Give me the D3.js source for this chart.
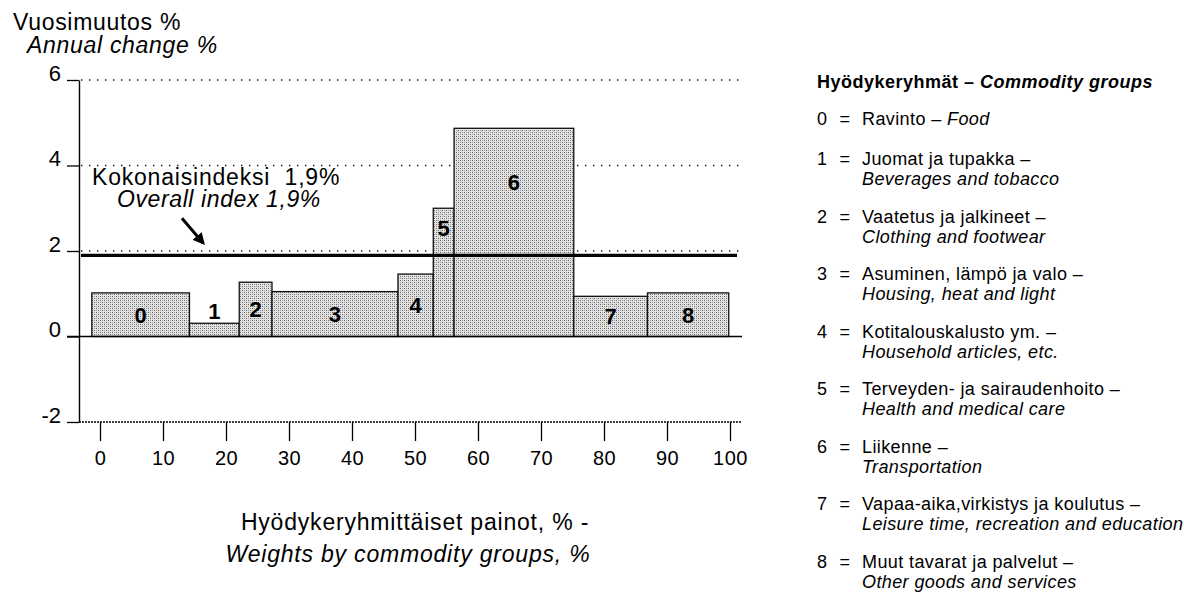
<!DOCTYPE html>
<html>
<head>
<meta charset="utf-8">
<script src="https://cdn.jsdelivr.net/npm/d3@7"></script>
<style>
  body { margin: 0; background: #fff; }
  svg { font-family: "Liberation Sans", Arial, Helvetica, sans-serif; }
</style>
</head>
<body>
<div id="chart"></div>
<script>
// hyödykeryhmät (koodit), painot % ja vuosimuutos %
const groups = ["0", "1", "2", "3", "4", "5", "6", "7", "8"];
const weights = [15.5, 7.9, 5.2, 20.0, 5.6, 3.3, 19.0, 11.7, 12.9];
const changes = [1.02, 0.31, 1.27, 1.05, 1.46, 3.0, 4.87, 0.94, 1.02];
const weightStart = -1.3;
const overall = 1.9;

const xTicks = [0, 10, 20, 30, 40, 50, 60, 70, 80, 90, 100];
const yTicks = [-2, 0, 2, 4, 6];

const legendFi = ["Ravinto", "Juomat ja tupakka", "Vaatetus ja jalkineet", "Asuminen, lämpö ja valo",
  "Kotitalouskalusto ym.", "Terveyden- ja sairaudenhoito", "Liikenne",
  "Vapaa-aika,virkistys ja koulutus", "Muut tavarat ja palvelut"];
const legendEn = ["Food", "Beverages and tobacco", "Clothing and footwear", "Housing, heat and light",
  "Household articles, etc.", "Health and medical care", "Transportation",
  "Leisure time, recreation and education", "Other goods and services"];

const W = 1184, H = 593;

const svg = d3.select("#chart").append("svg")
    .attr("width", W)
    .attr("height", H);

// pisterasteri pylväille
const defs = svg.append("defs");
const pat = defs.append("pattern")
    .attr("id", "stipple")
    .attr("patternUnits", "userSpaceOnUse")
    .attr("width", 4).attr("height", 4);
pat.append("rect").attr("width", 4).attr("height", 4).attr("fill", "#e2e2e2");
pat.append("rect").attr("x", 0).attr("y", 0).attr("width", 1).attr("height", 1).attr("fill", "#666");
pat.append("rect").attr("x", 2).attr("y", 2).attr("width", 1).attr("height", 1).attr("fill", "#666");
pat.append("rect").attr("x", 2).attr("y", 0).attr("width", 1).attr("height", 1).attr("fill", "#a0a0a0");
pat.append("rect").attr("x", 0).attr("y", 2).attr("width", 1).attr("height", 1).attr("fill", "#a0a0a0");

defs.append("marker")
    .attr("id", "arrow")
    .attr("viewBox", "0 0 10 10")
    .attr("refX", 8).attr("refY", 5)
    .attr("markerWidth", 4).attr("markerHeight", 4)
    .attr("orient", "auto")
  .append("path")
    .attr("d", "M0,0L10,5L0,10z")
    .attr("fill", "#000");

// asteikot
const x = d3.scaleLinear().domain([0, 100]).range([100, 730]);
const y = d3.scaleLinear().domain([-2, 6]).range([422, 80]);
const axisX = 79, plotRight = 742;

// apuviivat
svg.append("g")
  .selectAll("line")
  .data(yTicks.filter(d => d > 0))
  .join("line")
    .attr("x1", axisX + 2).attr("x2", plotRight)
    .attr("y1", d => y(d)).attr("y2", d => y(d))
    .attr("stroke", "#111")
    .attr("stroke-width", 1.3)
    .attr("stroke-dasharray", "1.4,6.6");

// pylväät: leveys = paino, korkeus = muutos
let acc = weightStart;
const bars = groups.map((g, i) => {
  const b = {g: g, x0: acc, x1: acc + weights[i], v: changes[i]};
  acc += weights[i];
  return b;
});

svg.append("g")
  .selectAll("rect")
  .data(bars)
  .join("rect")
    .attr("x", d => x(d.x0))
    .attr("y", d => y(d.v))
    .attr("width", d => x(d.x1) - x(d.x0))
    .attr("height", d => y(0) - y(d.v))
    .attr("fill", "url(#stipple)")
    .attr("stroke", "#111")
    .attr("stroke-width", 1.3);

// nollaviiva
svg.append("line")
    .attr("x1", axisX - 12).attr("x2", plotRight)
    .attr("y1", y(0)).attr("y2", y(0))
    .attr("stroke", "#000").attr("stroke-width", 1.4);

// -2 viiva (x-akseli)
svg.append("line")
    .attr("x1", axisX).attr("x2", plotRight)
    .attr("y1", y(-2)).attr("y2", y(-2))
    .attr("stroke", "#000").attr("stroke-width", 1.3)
    .attr("stroke-dasharray", "2,1");

// kokonaisindeksi
const lineY = y(overall);
svg.append("line")
    .attr("x1", axisX + 2).attr("x2", 737)
    .attr("y1", lineY).attr("y2", lineY)
    .attr("stroke", "#000").attr("stroke-width", 3.2);

// pylväiden numerot
svg.append("g")
  .selectAll("text")
  .data(bars)
  .join("text")
    .attr("x", d => (x(d.x0) + x(d.x1)) / 2)
    .attr("y", d => {
      const top = y(d.v), base = y(0);
      let c;
      if (base - top < 20) c = top - 12;
      else if (d.v > overall) c = top + 0.42 * (lineY - top);
      else c = Math.max((top + base) / 2, top + 20);
      return c + 8;
    })
    .attr("text-anchor", "middle")
    .attr("font-size", 22)
    .attr("font-weight", "bold")
    .text(d => d.g);

// y-akseli
const gy = svg.append("g")
    .attr("transform", "translate(" + axisX + ",0)")
    .call(d3.axisLeft(y).tickValues(yTicks).tickSize(12).tickSizeOuter(0)
      .tickFormat(d => d < 0 ? "-" + Math.abs(d) : String(d)));
gy.select(".domain").attr("stroke-width", 1.4);
gy.selectAll(".tick line").attr("stroke-width", 1.3);
gy.selectAll(".tick text")
    .attr("x", -18).attr("dy", 0)
    .attr("font-size", 22)
    .attr("fill", "#000")
    .style("font-family", "inherit");

// x-akseli
const gx = svg.append("g")
    .attr("transform", "translate(0," + y(-2) + ")")
    .call(d3.axisBottom(x).tickValues(xTicks).tickSize(19).tickSizeOuter(0));
gx.select(".domain").remove();
gx.selectAll(".tick line").attr("stroke-width", 1.3);
gx.selectAll(".tick text")
    .attr("y", 43).attr("dy", 0)
    .attr("font-size", 20)
    .attr("letter-spacing", 0.5)
    .attr("fill", "#000")
    .style("font-family", "inherit");

// akselien otsikot
svg.append("text").attr("x", 13).attr("y", 30)
    .attr("font-size", 23).attr("letter-spacing", 0.7).text("Vuosimuutos %");
svg.append("text").attr("x", 27).attr("y", 53)
    .attr("font-size", 23).attr("letter-spacing", 0.7).attr("font-style", "italic")
    .text("Annual change %");

svg.append("text").attr("x", 415).attr("y", 530)
    .attr("text-anchor", "middle").attr("font-size", 23).attr("letter-spacing", 0.8)
    .text("Hyödykeryhmittäiset painot, % -");
svg.append("text").attr("x", 408).attr("y", 562)
    .attr("text-anchor", "middle").attr("font-size", 23).attr("letter-spacing", 0.8)
    .attr("font-style", "italic")
    .text("Weights by commodity groups, %");

// kokonaisindeksin selite ja nuoli
svg.append("text").attr("x", 92).attr("y", 185)
    .attr("font-size", 23).attr("letter-spacing", 0.8).attr("xml:space", "preserve")
    .text("Kokonaisindeksi  1,9%");
svg.append("text").attr("x", 117).attr("y", 207)
    .attr("font-size", 23).attr("letter-spacing", 0.6).attr("font-style", "italic")
    .text("Overall index 1,9%");
svg.append("line")
    .attr("x1", x(13)).attr("y1", lineY - 37)
    .attr("x2", x(16.4)).attr("y2", lineY - 12)
    .attr("stroke", "#000").attr("stroke-width", 3)
    .attr("marker-end", "url(#arrow)");

// selite
const fs = 18, ls = 0.4;
const lg = svg.append("g").attr("letter-spacing", ls);
lg.append("text").attr("x", 817).attr("y", 88)
    .attr("font-size", fs).attr("font-weight", "bold").attr("letter-spacing", 0.5)
    .call(t => {
      t.append("tspan").text("Hyödykeryhmät – ");
      t.append("tspan").attr("font-style", "italic").text("Commodity groups");
    });

const itemY = i => i === 0 ? 125 : 165 + (i - 1) * 57.5;
groups.forEach((g, i) => {
  const yy = itemY(i);
  lg.append("text").attr("x", 817).attr("y", yy).attr("font-size", fs).text(g);
  lg.append("text").attr("x", 845).attr("y", yy).attr("font-size", fs)
      .attr("text-anchor", "middle").text("=");
  if (i === 0) {
    const t = lg.append("text").attr("x", 862).attr("y", yy).attr("font-size", fs);
    t.append("tspan").text(legendFi[i] + " – ");
    t.append("tspan").attr("font-style", "italic").text(legendEn[i]);
  } else {
    lg.append("text").attr("x", 862).attr("y", yy).attr("font-size", fs)
        .text(legendFi[i] + " –");
    lg.append("text").attr("x", 862).attr("y", yy + 20).attr("font-size", fs)
        .attr("font-style", "italic").text(legendEn[i]);
  }
});
</script>
</body>
</html>
